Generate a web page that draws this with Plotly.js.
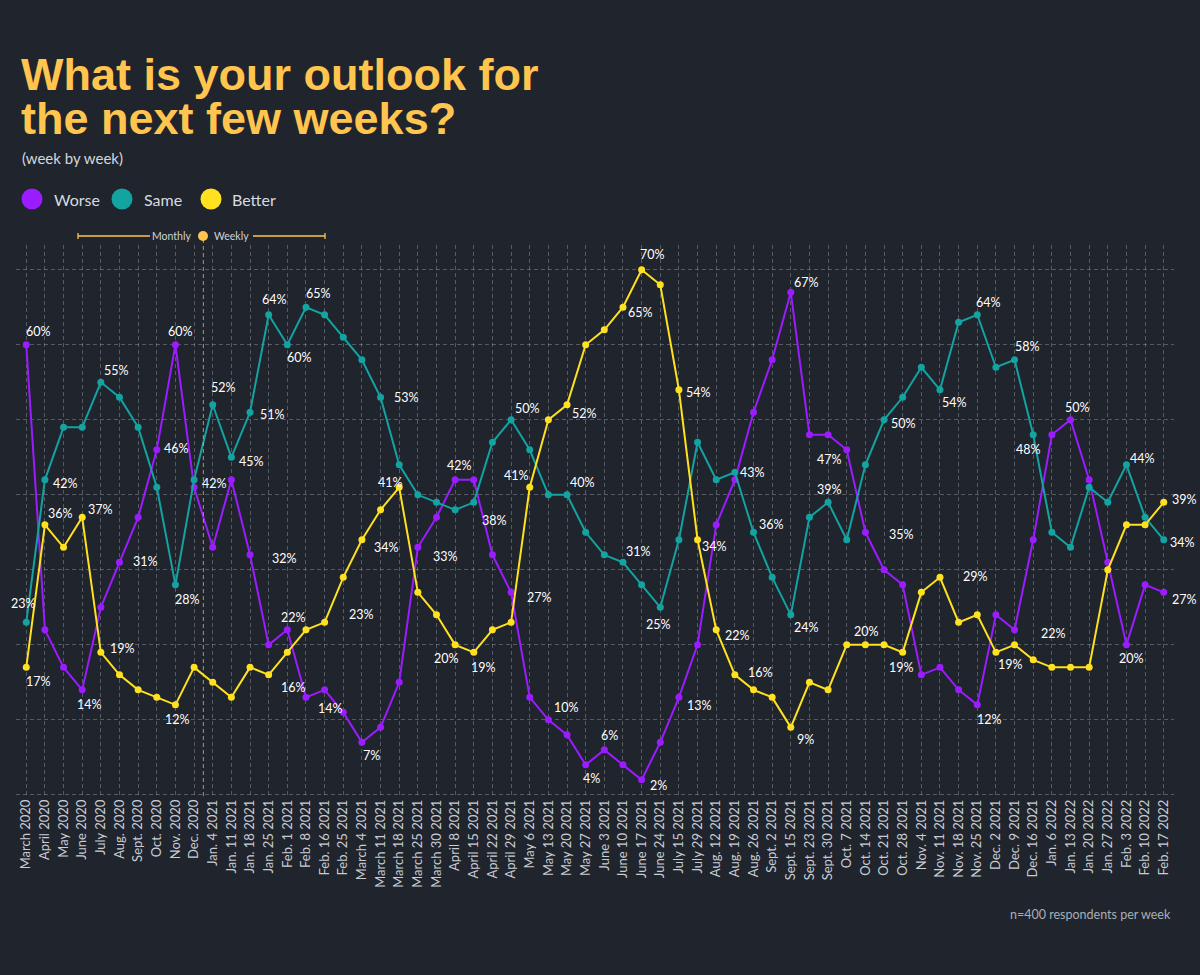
<!DOCTYPE html>
<html><head><meta charset="utf-8">
<script src="https://cdn.plot.ly/plotly-3.0.1.min.js"></script>
<style>html,body{margin:0;padding:0;background:#1f242d;} #chart{width:1200px;height:975px;}</style>
</head><body><div id="chart"></div>
<script>
const categories = ["March 2020","April 2020","May 2020","June 2020","July 2020","Aug. 2020","Sept. 2020","Oct. 2020","Nov. 2020","Dec. 2020",
"Jan. 4 2021","Jan. 11 2021","Jan. 18 2021","Jan. 25 2021","Feb. 1 2021","Feb. 8 2021","Feb. 16 2021","Feb. 25 2021","March 4 2021","March 11 2021",
"March 18 2021","March 25 2021","March 30 2021","April 8 2021","April 15 2021","April 22 2021","April 29 2021","May 6 2021","May 13 2021","May 20 2021",
"May 27 2021","June 3 2021","June 10 2021","June 17 2021","June 24 2021","July 15 2021","July 29 2021","Aug. 12 2021","Aug. 19 2021","Aug. 26 2021",
"Sept. 2 2021","Sept. 15 2021","Sept. 23 2021","Sept. 30 2021","Oct. 7 2021","Oct. 14 2021","Oct. 21 2021","Oct. 28 2021","Nov. 4 2021","Nov. 11 2021",
"Nov. 18 2021","Nov. 25 2021","Dec. 2 2021","Dec. 9 2021","Dec. 16 2021","Jan. 6 2022","Jan. 13 2022","Jan. 20 2022","Jan. 27 2022","Feb. 3 2022",
"Feb. 10 2022","Feb. 17 2022"];

const worse = [60,22,17,14,25,31,37,46,60,41, 33,42,32,20,22,13,14,11,7,9, 15,33,37,42,42,32,27,13,10,8,
  4,6,4,2,7,13,20,36,42,51, 58,67,48,48,46,35,30,28,16,17, 14,12,24,22,34,48,50,42,31,20, 28,27];
const same = [23,42,49,49,55,53,49,41,28,42, 52,45,51,64,60,65,64,61,58,53, 44,40,39,38,39,47,50,46,40,40,
  35,32,31,28,25,34,47,42,43,35, 29,24,37,39,34,44,50,53,57,54, 63,64,57,58,48,35,33,41,39,44, 37,34];
const better = [17,36,33,37,19,16,14,13,12,17, 15,13,17,16,19,22,23,29,34,38, 41,27,24,20,19,22,23,41,50,52,
  60,62,65,70,68,54,34,22,16,14, 13,9,15,14,20,20,20,19,27,29, 23,24,19,20,18,17,17,17,30,36, 36,39];

const seriesNames = ["Worse","Same","Better"];
const splitIndex = 9.5; // between monthly and weekly surveys

// data labels as printed on the chart: [series, point index, text]
const labelTexts = [
 ['w',0,'60%'],['s',0,'23%'],['b',0,'17%'],['s',1,'42%'],['b',1,'36%'],['b',3,'37%'],['w',3,'14%'],['s',4,'55%'],['b',4,'19%'],['w',5,'31%'],
 ['w',7,'46%'],['w',8,'60%'],['s',8,'28%'],['b',8,'12%'],['s',9,'42%'],['s',10,'52%'],['s',11,'45%'],['s',12,'51%'],['s',13,'64%'],['s',14,'60%'],
 ['s',15,'65%'],['w',12,'32%'],['w',14,'22%'],['b',13,'16%'],['w',16,'14%'],['w',18,'7%'],['b',16,'23%'],['b',18,'34%'],['b',20,'41%'],['s',19,'53%'],
 ['w',23,'42%'],['w',21,'33%'],['s',23,'38%'],['b',23,'20%'],['b',24,'19%'],['s',26,'50%'],['b',27,'41%'],['w',26,'27%'],['b',29,'52%'],['s',29,'40%'],
 ['w',28,'10%'],['w',30,'4%'],['b',33,'70%'],['b',32,'65%'],['b',35,'54%'],['s',32,'31%'],['s',34,'25%'],['w',31,'6%'],['w',33,'2%'],['w',35,'13%'],
 ['b',36,'34%'],['b',37,'22%'],['b',38,'16%'],['s',38,'43%'],['s',39,'36%'],['w',41,'67%'],['w',43,'47%'],['s',43,'39%'],['s',41,'24%'],['b',41,'9%'],
 ['b',45,'20%'],['w',45,'35%'],['s',46,'50%'],['b',47,'19%'],['s',49,'54%'],['b',49,'29%'],['s',51,'64%'],['w',51,'12%'],['s',53,'58%'],['s',54,'48%'],
 ['w',56,'50%'],['w',53,'22%'],['b',52,'19%'],['w',59,'20%'],['s',59,'44%'],['b',61,'39%'],['s',61,'34%'],['w',61,'27%']
];
// label placement offsets in pixels (dx right, dy down), same order as labelTexts
const labelOffsets = [
 [12,-13],[-3,-19],[12,14],[21,4],[16,-11],[18,-8],[7,15],[16,-12],[22,-4],[26,-1],
 [20,-1],[5,-13],[12,15],[2,15],[20,4],[11,-17],[20,4],[22,2],[6,-15],[12,13],
 [13,-14],[34,4],[6,-12],[25,13],[6,19],[10,13],[37,-8],[25,8],[-9,-5],[26,0],
 [4,-14],[28,9],[39,11],[-9,14],[10,15],[16,-11],[-13,-12],[28,5],[17,9],[15,-12],
 [18,-12],[6,14],[11,-15],[18,5],[20,3],[16,-11],[-2,17],[5,-14],[17,6],[21,8],
 [17,7],[21,6],[26,-2],[18,0],[18,-8],[16,-10],[1,25],[1,-13],[16,13],[15,12],
 [1,-13],[36,2],[19,4],[-1,15],[15,13],[36,-1],[11,-12],[12,15],[13,-13],[-5,15],
 [7,-12],[39,4],[15,12],[5,14],[16,-6],[21,-3],[19,3],[21,7]
];

const colors = {w:'#9a1cff', s:'#13a3a1', b:'#ffe11f'};
const seriesData = {w:worse, s:same, b:better};
const gold = '#ffc54f';
const bg = '#1f242d';

const Lm=16, Rm=26, Tm=245, Bm=179;
const W=1200-Lm-Rm, H=975-Tm-Bm;
const px = X => (X-Lm)/W;
const py = Y => (Tm+H-Y)/H;

const traces = ['w','s','b'].map((k,i)=>({
  type:'scatter', mode:'lines+markers', name:seriesNames[i],
  x:categories, y:seriesData[k],
  line:{color:colors[k], width:2},
  marker:{color:colors[k], size:7},
  cliponaxis:false, hoverinfo:'skip'
}));

const annotations = [];
labelTexts.forEach((l,j)=>{
  const [k,i,t]=l; const [dx,dy]=labelOffsets[j];
  annotations.push({xref:'x', yref:'y', x:i, y:seriesData[k][i], text:t, showarrow:false,
    xshift:dx, yshift:-dy, font:{family:'Lato', size:12.5, color:'#ffffff'}});
});
// title lines
annotations.push({xref:'paper',yref:'paper',x:px(19),y:py(74),xanchor:'left',yanchor:'middle',showarrow:false,
  text:'<b>What is your outlook for</b>',font:{family:'Liberation Sans',size:45,color:gold}});
annotations.push({xref:'paper',yref:'paper',x:px(19),y:py(119),xanchor:'left',yanchor:'middle',showarrow:false,
  text:'<b>the next few weeks?</b>',font:{family:'Liberation Sans',size:45,color:gold}});
annotations.push({xref:'paper',yref:'paper',x:px(20),y:py(158),xanchor:'left',yanchor:'middle',showarrow:false,
  text:'(week by week)',font:{family:'Lato',size:15,color:'#d4d7dc'}});
// legend
const legendPos = [[32,52],[122,142],[211,230]];
const shapes = [];
['w','s','b'].forEach((k,i)=>{
  const [cx,tx]=legendPos[i];
  shapes.push({type:'circle',xref:'paper',yref:'paper',x0:px(cx-10.5),x1:px(cx+10.5),y0:py(209.5),y1:py(188.5),
    fillcolor:colors[k],line:{width:0}});
  annotations.push({xref:'paper',yref:'paper',x:px(tx),y:py(199),xanchor:'left',yanchor:'middle',showarrow:false,
    text:seriesNames[i],font:{family:'Lato',size:16,color:'#d8dbe0'}});
});
// monthly / weekly marker
shapes.push({type:'line',xref:'paper',yref:'paper',x0:px(78),x1:px(150),y0:py(236),y1:py(236),line:{color:gold,width:1.3}});
shapes.push({type:'line',xref:'paper',yref:'paper',x0:px(78),x1:px(78),y0:py(233),y1:py(239),line:{color:gold,width:1.3}});
shapes.push({type:'line',xref:'paper',yref:'paper',x0:px(253),x1:px(325),y0:py(236),y1:py(236),line:{color:gold,width:1.3}});
shapes.push({type:'line',xref:'paper',yref:'paper',x0:px(325),x1:px(325),y0:py(233),y1:py(239),line:{color:gold,width:1.3}});
shapes.push({type:'line',xref:'x',yref:'paper',x0:splitIndex,x1:splitIndex,y0:0,y1:py(236),
  line:{color:'rgba(255,197,79,0.6)',width:1.2,dash:'4px,3px'}});
shapes.push({type:'circle',xref:'paper',yref:'paper',x0:px(198),x1:px(208),y0:py(241),y1:py(231),fillcolor:gold,line:{width:0}});
annotations.push({xref:'paper',yref:'paper',x:px(193),y:py(236),xanchor:'right',yanchor:'middle',showarrow:false,
  text:'Monthly',font:{family:'Lato',size:10.5,color:'#d0d3d8'}});
annotations.push({xref:'paper',yref:'paper',x:px(212),y:py(236),xanchor:'left',yanchor:'middle',showarrow:false,
  text:'Weekly',font:{family:'Lato',size:10.5,color:'#d0d3d8'}});
// footer
annotations.push({xref:'paper',yref:'paper',x:px(1173),y:py(914),xanchor:'right',yanchor:'middle',showarrow:false,
  text:'n=400 respondents per week',font:{family:'Lato',size:12.5,color:'#a9aeb6'}});

const gridColor = 'rgba(200,205,215,0.32)';
const layout = {
  width:1200, height:975, paper_bgcolor:bg, plot_bgcolor:bg,
  margin:{l:Lm, r:Rm, t:Tm, b:Bm, pad:0},
  showlegend:false,
  xaxis:{type:'category', categoryarray:categories, range:[-0.55, categories.length-0.45],
    tickmode:'linear', tick0:0, dtick:1, tickangle:-90, ticks:'',
    showgrid:true, gridcolor:gridColor, gridwidth:1, griddash:'4px,3px',
    zeroline:false, showline:false, fixedrange:true,
    tickfont:{family:'Lato', size:13, color:'#c9ccd2'}},
  yaxis:{range:[-0.15,73.3], tickmode:'linear', tick0:0, dtick:10, showticklabels:false, ticks:'',
    showgrid:true, gridcolor:gridColor, gridwidth:1, griddash:'4px,3px',
    zeroline:false, showline:false, fixedrange:true},
  annotations:annotations, shapes:shapes,
  font:{family:'Lato', color:'#c9ccd2'}
};
Plotly.newPlot('chart', traces, layout, {displayModeBar:false, staticPlot:true});
</script></body></html>
